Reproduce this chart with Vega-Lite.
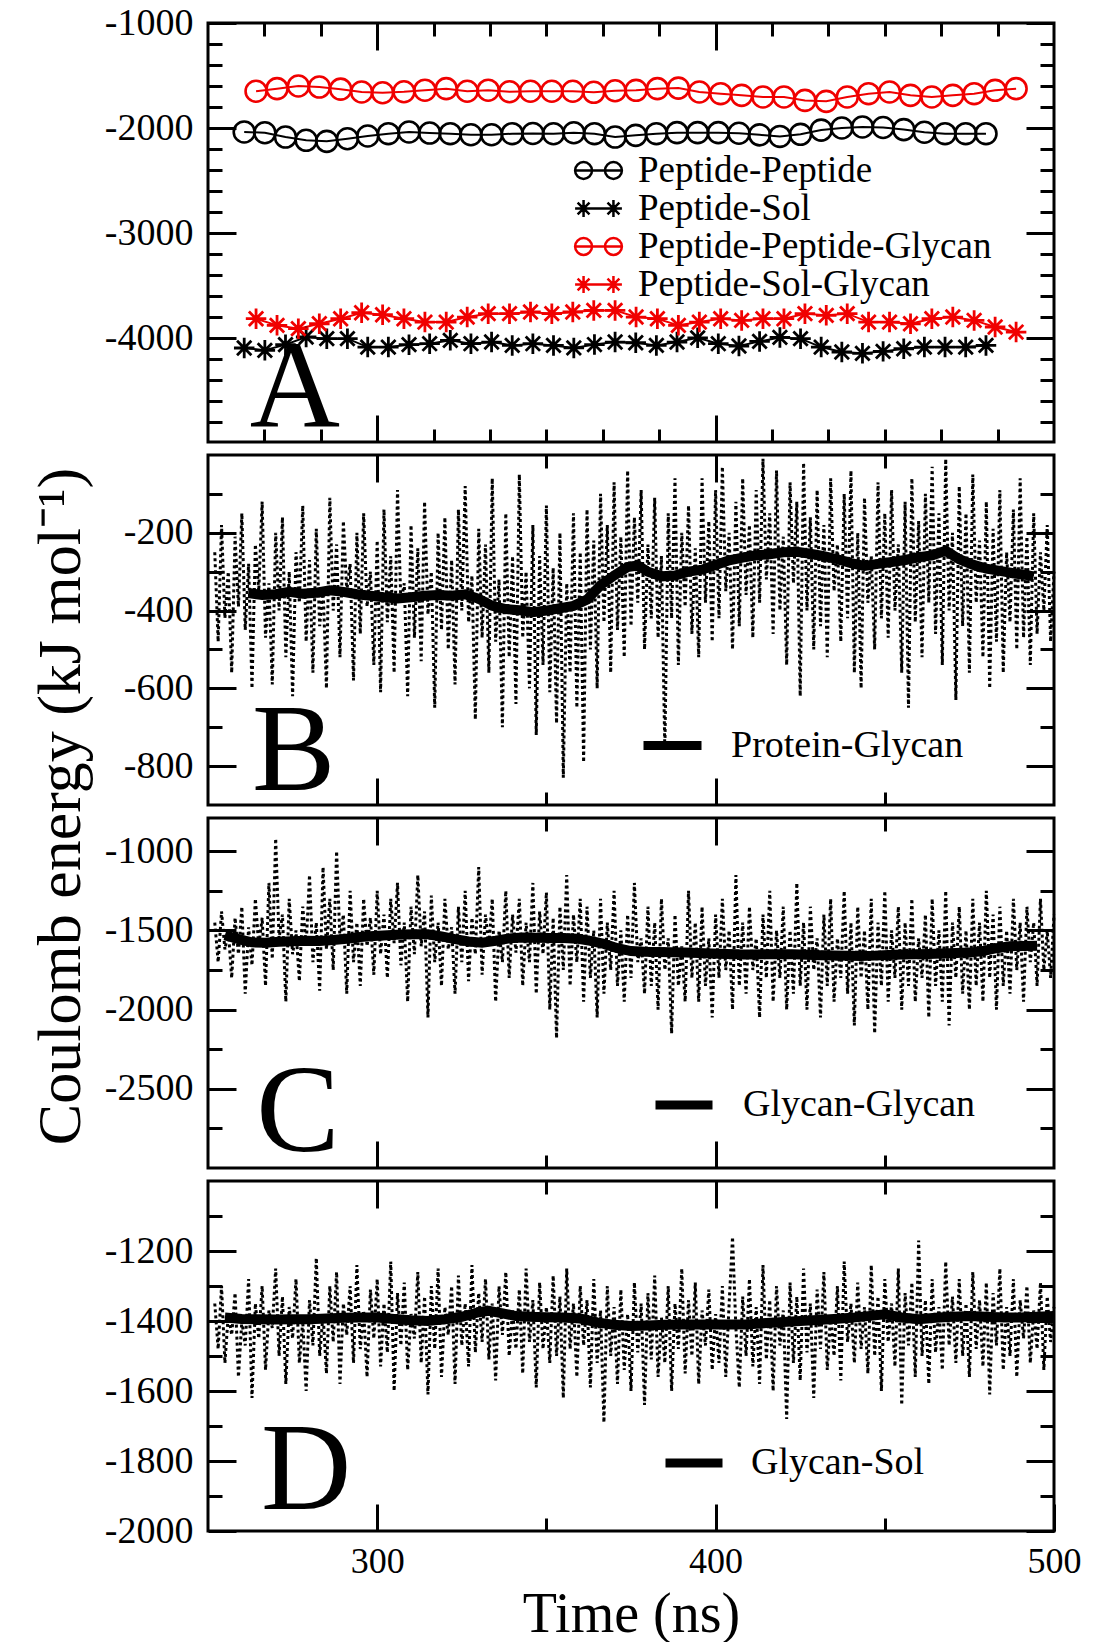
{
  "$schema": "https://vega.github.io/schema/vega-lite/v6.json",
  "padding": {"left": 27, "top": 2, "right": 8, "bottom": 4},
  "background": "white",
  "spacing": 13,
  "bounds": "flush",
  "config": {
    "view": {"stroke": "black", "strokeWidth": 3},
    "axis": {"labelFont": "Liberation Serif", "titleFont": "Liberation Serif", "labelColor": "black", "titleColor": "black", "tickColor": "black", "domain": false, "grid": false, "labelFlush": false, "labelOverlap": false, "titleFontWeight": "normal"},
    "legend": {"labelFont": "Liberation Serif", "labelColor": "black", "labelLimit": 600}
  },
  "resolve": {"scale": {"color": "independent"}, "legend": {"color": "independent"}},
  "datasets": {
    "A": [
      {"s":"Peptide-Peptide","t":260.7,"v":-2038},{"s":"Peptide-Peptide","t":266.8,"v":-2045},{"s":"Peptide-Peptide","t":272.9,"v":-2086},{"s":"Peptide-Peptide","t":279.0,"v":-2117},{"s":"Peptide-Peptide","t":285.1,"v":-2127},{"s":"Peptide-Peptide","t":291.2,"v":-2102},{"s":"Peptide-Peptide","t":297.2,"v":-2076},{"s":"Peptide-Peptide","t":303.3,"v":-2054},{"s":"Peptide-Peptide","t":309.4,"v":-2038},{"s":"Peptide-Peptide","t":315.5,"v":-2048},{"s":"Peptide-Peptide","t":321.6,"v":-2054},{"s":"Peptide-Peptide","t":327.7,"v":-2064},{"s":"Peptide-Peptide","t":333.8,"v":-2064},{"s":"Peptide-Peptide","t":339.9,"v":-2054},{"s":"Peptide-Peptide","t":346.0,"v":-2052},{"s":"Peptide-Peptide","t":352.1,"v":-2055},{"s":"Peptide-Peptide","t":358.1,"v":-2045},{"s":"Peptide-Peptide","t":364.2,"v":-2054},{"s":"Peptide-Peptide","t":370.3,"v":-2086},{"s":"Peptide-Peptide","t":376.4,"v":-2070},{"s":"Peptide-Peptide","t":382.5,"v":-2054},{"s":"Peptide-Peptide","t":388.6,"v":-2044},{"s":"Peptide-Peptide","t":394.7,"v":-2044},{"s":"Peptide-Peptide","t":400.8,"v":-2044},{"s":"Peptide-Peptide","t":406.9,"v":-2050},{"s":"Peptide-Peptide","t":413.0,"v":-2065},{"s":"Peptide-Peptide","t":419.0,"v":-2080},{"s":"Peptide-Peptide","t":425.1,"v":-2060},{"s":"Peptide-Peptide","t":431.2,"v":-2020},{"s":"Peptide-Peptide","t":437.3,"v":-2000},{"s":"Peptide-Peptide","t":443.4,"v":-1990},{"s":"Peptide-Peptide","t":449.5,"v":-1995},{"s":"Peptide-Peptide","t":455.6,"v":-2015},{"s":"Peptide-Peptide","t":461.7,"v":-2040},{"s":"Peptide-Peptide","t":467.8,"v":-2054},{"s":"Peptide-Peptide","t":473.9,"v":-2054},{"s":"Peptide-Peptide","t":479.9,"v":-2054},
      {"s":"Peptide-Sol","t":260.7,"v":-4095},{"s":"Peptide-Sol","t":266.8,"v":-4117},{"s":"Peptide-Sol","t":272.9,"v":-4063},{"s":"Peptide-Sol","t":279.0,"v":-3990},{"s":"Peptide-Sol","t":285.1,"v":-4006},{"s":"Peptide-Sol","t":291.2,"v":-4006},{"s":"Peptide-Sol","t":297.2,"v":-4086},{"s":"Peptide-Sol","t":303.3,"v":-4086},{"s":"Peptide-Sol","t":309.4,"v":-4063},{"s":"Peptide-Sol","t":315.5,"v":-4054},{"s":"Peptide-Sol","t":321.6,"v":-4022},{"s":"Peptide-Sol","t":327.7,"v":-4054},{"s":"Peptide-Sol","t":333.8,"v":-4038},{"s":"Peptide-Sol","t":339.9,"v":-4070},{"s":"Peptide-Sol","t":346.0,"v":-4054},{"s":"Peptide-Sol","t":352.1,"v":-4070},{"s":"Peptide-Sol","t":358.1,"v":-4094},{"s":"Peptide-Sol","t":364.2,"v":-4062},{"s":"Peptide-Sol","t":370.3,"v":-4038},{"s":"Peptide-Sol","t":376.4,"v":-4045},{"s":"Peptide-Sol","t":382.5,"v":-4070},{"s":"Peptide-Sol","t":388.6,"v":-4038},{"s":"Peptide-Sol","t":394.7,"v":-3998},{"s":"Peptide-Sol","t":400.8,"v":-4054},{"s":"Peptide-Sol","t":406.9,"v":-4076},{"s":"Peptide-Sol","t":413.0,"v":-4032},{"s":"Peptide-Sol","t":419.0,"v":-3994},{"s":"Peptide-Sol","t":425.1,"v":-4006},{"s":"Peptide-Sol","t":431.2,"v":-4086},{"s":"Peptide-Sol","t":437.3,"v":-4133},{"s":"Peptide-Sol","t":443.4,"v":-4146},{"s":"Peptide-Sol","t":449.5,"v":-4127},{"s":"Peptide-Sol","t":455.6,"v":-4102},{"s":"Peptide-Sol","t":461.7,"v":-4086},{"s":"Peptide-Sol","t":467.8,"v":-4086},{"s":"Peptide-Sol","t":473.9,"v":-4086},{"s":"Peptide-Sol","t":479.9,"v":-4070},
      {"s":"Peptide-Peptide-Glycan","t":264.2,"v":-1650},{"s":"Peptide-Peptide-Glycan","t":270.4,"v":-1625},{"s":"Peptide-Peptide-Glycan","t":276.7,"v":-1600},{"s":"Peptide-Peptide-Glycan","t":282.9,"v":-1610},{"s":"Peptide-Peptide-Glycan","t":289.2,"v":-1630},{"s":"Peptide-Peptide-Glycan","t":295.4,"v":-1657},{"s":"Peptide-Peptide-Glycan","t":301.6,"v":-1664},{"s":"Peptide-Peptide-Glycan","t":307.9,"v":-1655},{"s":"Peptide-Peptide-Glycan","t":314.1,"v":-1640},{"s":"Peptide-Peptide-Glycan","t":320.4,"v":-1625},{"s":"Peptide-Peptide-Glycan","t":326.6,"v":-1650},{"s":"Peptide-Peptide-Glycan","t":332.8,"v":-1640},{"s":"Peptide-Peptide-Glycan","t":339.1,"v":-1655},{"s":"Peptide-Peptide-Glycan","t":345.3,"v":-1650},{"s":"Peptide-Peptide-Glycan","t":351.6,"v":-1650},{"s":"Peptide-Peptide-Glycan","t":357.8,"v":-1650},{"s":"Peptide-Peptide-Glycan","t":364.0,"v":-1660},{"s":"Peptide-Peptide-Glycan","t":370.3,"v":-1645},{"s":"Peptide-Peptide-Glycan","t":376.5,"v":-1641},{"s":"Peptide-Peptide-Glycan","t":382.8,"v":-1625},{"s":"Peptide-Peptide-Glycan","t":389.0,"v":-1620},{"s":"Peptide-Peptide-Glycan","t":395.2,"v":-1657},{"s":"Peptide-Peptide-Glycan","t":401.5,"v":-1673},{"s":"Peptide-Peptide-Glycan","t":407.7,"v":-1689},{"s":"Peptide-Peptide-Glycan","t":414.0,"v":-1705},{"s":"Peptide-Peptide-Glycan","t":420.2,"v":-1705},{"s":"Peptide-Peptide-Glycan","t":426.4,"v":-1737},{"s":"Peptide-Peptide-Glycan","t":432.7,"v":-1746},{"s":"Peptide-Peptide-Glycan","t":438.9,"v":-1705},{"s":"Peptide-Peptide-Glycan","t":445.2,"v":-1673},{"s":"Peptide-Peptide-Glycan","t":451.4,"v":-1657},{"s":"Peptide-Peptide-Glycan","t":457.6,"v":-1689},{"s":"Peptide-Peptide-Glycan","t":463.9,"v":-1705},{"s":"Peptide-Peptide-Glycan","t":470.1,"v":-1689},{"s":"Peptide-Peptide-Glycan","t":476.4,"v":-1673},{"s":"Peptide-Peptide-Glycan","t":482.6,"v":-1641},{"s":"Peptide-Peptide-Glycan","t":488.8,"v":-1625},
      {"s":"Peptide-Sol-Glycan","t":264.2,"v":-3816},{"s":"Peptide-Sol-Glycan","t":270.4,"v":-3879},{"s":"Peptide-Sol-Glycan","t":276.7,"v":-3911},{"s":"Peptide-Sol-Glycan","t":282.9,"v":-3864},{"s":"Peptide-Sol-Glycan","t":289.2,"v":-3816},{"s":"Peptide-Sol-Glycan","t":295.4,"v":-3759},{"s":"Peptide-Sol-Glycan","t":301.6,"v":-3778},{"s":"Peptide-Sol-Glycan","t":307.9,"v":-3816},{"s":"Peptide-Sol-Glycan","t":314.1,"v":-3848},{"s":"Peptide-Sol-Glycan","t":320.4,"v":-3848},{"s":"Peptide-Sol-Glycan","t":326.6,"v":-3800},{"s":"Peptide-Sol-Glycan","t":332.8,"v":-3768},{"s":"Peptide-Sol-Glycan","t":339.1,"v":-3768},{"s":"Peptide-Sol-Glycan","t":345.3,"v":-3752},{"s":"Peptide-Sol-Glycan","t":351.6,"v":-3768},{"s":"Peptide-Sol-Glycan","t":357.8,"v":-3752},{"s":"Peptide-Sol-Glycan","t":364.0,"v":-3737},{"s":"Peptide-Sol-Glycan","t":370.3,"v":-3737},{"s":"Peptide-Sol-Glycan","t":376.5,"v":-3800},{"s":"Peptide-Sol-Glycan","t":382.8,"v":-3816},{"s":"Peptide-Sol-Glycan","t":389.0,"v":-3879},{"s":"Peptide-Sol-Glycan","t":395.2,"v":-3848},{"s":"Peptide-Sol-Glycan","t":401.5,"v":-3816},{"s":"Peptide-Sol-Glycan","t":407.7,"v":-3832},{"s":"Peptide-Sol-Glycan","t":414.0,"v":-3816},{"s":"Peptide-Sol-Glycan","t":420.2,"v":-3816},{"s":"Peptide-Sol-Glycan","t":426.4,"v":-3768},{"s":"Peptide-Sol-Glycan","t":432.7,"v":-3784},{"s":"Peptide-Sol-Glycan","t":438.9,"v":-3768},{"s":"Peptide-Sol-Glycan","t":445.2,"v":-3848},{"s":"Peptide-Sol-Glycan","t":451.4,"v":-3848},{"s":"Peptide-Sol-Glycan","t":457.6,"v":-3864},{"s":"Peptide-Sol-Glycan","t":463.9,"v":-3816},{"s":"Peptide-Sol-Glycan","t":470.1,"v":-3800},{"s":"Peptide-Sol-Glycan","t":476.4,"v":-3832},{"s":"Peptide-Sol-Glycan","t":482.6,"v":-3895},{"s":"Peptide-Sol-Glycan","t":488.8,"v":-3943}
    ],
    "letters": [
      {"p":"A","t":275.7,"v":-4848},{"p":"B","t":275.3,"v":-861},{"p":"C","t":276.6,"v":-2892},{"p":"D","t":279,"v":-1937}
    ],
    "Braw": [
      {"t":252,"v":-250},{"t":253,"v":-480},{"t":254,"v":-180},{"t":255,"v":-420},{"t":256,"v":-300},{"t":257,"v":-560},{"t":258,"v":-210},{"t":259,"v":-390},{"t":260,"v":-150},{"t":261,"v":-450},
      {"t":262,"v":-280},{"t":263,"v":-600},{"t":264,"v":-230},{"t":265,"v":-350},{"t":266,"v":-120},{"t":267,"v":-470},{"t":268,"v":-330},{"t":269,"v":-590},{"t":270,"v":-200},{"t":271,"v":-400},
      {"t":272,"v":-160},{"t":273,"v":-520},{"t":274,"v":-300},{"t":275,"v":-620},{"t":276,"v":-250},{"t":277,"v":-380},{"t":278,"v":-130},{"t":279,"v":-480},{"t":280,"v":-270},{"t":281,"v":-560},
      {"t":282,"v":-190},{"t":283,"v":-440},{"t":284,"v":-340},{"t":285,"v":-600},{"t":286,"v":-110},{"t":287,"v":-400},{"t":288,"v":-230},{"t":289,"v":-520},{"t":290,"v":-170},{"t":291,"v":-350},
      {"t":292,"v":-280},{"t":293,"v":-580},{"t":294,"v":-200},{"t":295,"v":-460},{"t":296,"v":-150},{"t":297,"v":-390},{"t":298,"v":-300},{"t":299,"v":-540},{"t":300,"v":-220},{"t":301,"v":-610},
      {"t":302,"v":-140},{"t":303,"v":-430},{"t":304,"v":-260},{"t":305,"v":-560},{"t":306,"v":-90},{"t":307,"v":-380},{"t":308,"v":-330},{"t":309,"v":-620},{"t":310,"v":-180},{"t":311,"v":-470},
      {"t":312,"v":-240},{"t":313,"v":-530},{"t":314,"v":-120},{"t":315,"v":-410},{"t":316,"v":-300},{"t":317,"v":-650},{"t":318,"v":-200},{"t":319,"v":-450},{"t":320,"v":-160},{"t":321,"v":-500},
      {"t":322,"v":-270},{"t":323,"v":-590},{"t":324,"v":-140},{"t":325,"v":-400},{"t":326,"v":-80},{"t":327,"v":-430},{"t":328,"v":-310},{"t":329,"v":-680},{"t":330,"v":-190},{"t":331,"v":-470},
      {"t":332,"v":-230},{"t":333,"v":-560},{"t":334,"v":-60},{"t":335,"v":-480},{"t":336,"v":-320},{"t":337,"v":-700},{"t":338,"v":-150},{"t":339,"v":-520},{"t":340,"v":-260},{"t":341,"v":-640},
      {"t":342,"v":-50},{"t":343,"v":-470},{"t":344,"v":-300},{"t":345,"v":-600},{"t":346,"v":-180},{"t":347,"v":-720},{"t":348,"v":-260},{"t":349,"v":-540},{"t":350,"v":-130},{"t":351,"v":-610},
      {"t":352,"v":-290},{"t":353,"v":-690},{"t":354,"v":-200},{"t":355,"v":-830},{"t":356,"v":-330},{"t":357,"v":-560},{"t":358,"v":-150},{"t":359,"v":-650},{"t":360,"v":-250},{"t":361,"v":-790},
      {"t":362,"v":-140},{"t":363,"v":-500},{"t":364,"v":-220},{"t":365,"v":-600},{"t":366,"v":-100},{"t":367,"v":-430},{"t":368,"v":-180},{"t":369,"v":-560},{"t":370,"v":-70},{"t":371,"v":-450},
      {"t":372,"v":-210},{"t":373,"v":-520},{"t":374,"v":-40},{"t":375,"v":-440},{"t":376,"v":-160},{"t":377,"v":-380},{"t":378,"v":-90},{"t":379,"v":-500},{"t":380,"v":-230},{"t":381,"v":-420},
      {"t":382,"v":-110},{"t":383,"v":-470},{"t":384,"v":-260},{"t":385,"v":-760},{"t":386,"v":-150},{"t":387,"v":-420},{"t":388,"v":-60},{"t":389,"v":-540},{"t":390,"v":-200},{"t":391,"v":-390},
      {"t":392,"v":-130},{"t":393,"v":-460},{"t":394,"v":-240},{"t":395,"v":-520},{"t":396,"v":-60},{"t":397,"v":-380},{"t":398,"v":-170},{"t":399,"v":-480},{"t":400,"v":-90},{"t":401,"v":-420},
      {"t":402,"v":-30},{"t":403,"v":-350},{"t":404,"v":-200},{"t":405,"v":-500},{"t":406,"v":-120},{"t":407,"v":-440},{"t":408,"v":-60},{"t":409,"v":-360},{"t":410,"v":-180},{"t":411,"v":-470},
      {"t":412,"v":-90},{"t":413,"v":-380},{"t":414,"v":-10},{"t":415,"v":-320},{"t":416,"v":-150},{"t":417,"v":-460},{"t":418,"v":-40},{"t":419,"v":-400},{"t":420,"v":-210},{"t":421,"v":-540},
      {"t":422,"v":-70},{"t":423,"v":-330},{"t":424,"v":-120},{"t":425,"v":-620},{"t":426,"v":-20},{"t":427,"v":-400},{"t":428,"v":-160},{"t":429,"v":-500},{"t":430,"v":-90},{"t":431,"v":-440},
      {"t":432,"v":-180},{"t":433,"v":-520},{"t":434,"v":-60},{"t":435,"v":-350},{"t":436,"v":-230},{"t":437,"v":-480},{"t":438,"v":-100},{"t":439,"v":-420},{"t":440,"v":-40},{"t":441,"v":-560},
      {"t":442,"v":-200},{"t":443,"v":-600},{"t":444,"v":-110},{"t":445,"v":-380},{"t":446,"v":-260},{"t":447,"v":-500},{"t":448,"v":-70},{"t":449,"v":-420},{"t":450,"v":-150},{"t":451,"v":-470},
      {"t":452,"v":-90},{"t":453,"v":-400},{"t":454,"v":-230},{"t":455,"v":-560},{"t":456,"v":-120},{"t":457,"v":-650},{"t":458,"v":-60},{"t":459,"v":-430},{"t":460,"v":-170},{"t":461,"v":-520},
      {"t":462,"v":-100},{"t":463,"v":-380},{"t":464,"v":-30},{"t":465,"v":-460},{"t":466,"v":-150},{"t":467,"v":-540},{"t":468,"v":-10},{"t":469,"v":-400},{"t":470,"v":-200},{"t":471,"v":-630},
      {"t":472,"v":-80},{"t":473,"v":-440},{"t":474,"v":-150},{"t":475,"v":-560},{"t":476,"v":-50},{"t":477,"v":-380},{"t":478,"v":-220},{"t":479,"v":-520},{"t":480,"v":-120},{"t":481,"v":-600},
      {"t":482,"v":-190},{"t":483,"v":-480},{"t":484,"v":-90},{"t":485,"v":-560},{"t":486,"v":-250},{"t":487,"v":-430},{"t":488,"v":-140},{"t":489,"v":-500},{"t":490,"v":-60},{"t":491,"v":-470},
      {"t":492,"v":-210},{"t":493,"v":-540},{"t":494,"v":-150},{"t":495,"v":-460},{"t":496,"v":-250},{"t":497,"v":-400},{"t":498,"v":-180},{"t":499,"v":-480},{"t":500,"v":-300}
    ],
    "Bsm": [
      {"t":262,"v":-355},{"t":266,"v":-360},{"t":270,"v":-358},{"t":274,"v":-352},{"t":278,"v":-357},{"t":282,"v":-354},{"t":286,"v":-348},{"t":290,"v":-352},{"t":294,"v":-358},{"t":298,"v":-362},{"t":302,"v":-366},{"t":306,"v":-369},{"t":310,"v":-366},{"t":314,"v":-362},{"t":318,"v":-360},{"t":322,"v":-362},{"t":326,"v":-358},{"t":330,"v":-370},{"t":334,"v":-388},{"t":338,"v":-396},{"t":342,"v":-399},{"t":346,"v":-404},{"t":350,"v":-400},{"t":354,"v":-394},{"t":358,"v":-388},{"t":362,"v":-372},{"t":366,"v":-335},{"t":370,"v":-310},{"t":374,"v":-288},{"t":377,"v":-284},{"t":380,"v":-300},{"t":384,"v":-312},{"t":388,"v":-310},{"t":392,"v":-300},{"t":396,"v":-295},{"t":400,"v":-283},{"t":404,"v":-271},{"t":408,"v":-264},{"t":412,"v":-258},{"t":416,"v":-255},{"t":420,"v":-250},{"t":424,"v":-249},{"t":428,"v":-254},{"t":432,"v":-260},{"t":436,"v":-268},{"t":440,"v":-278},{"t":444,"v":-285},{"t":448,"v":-280},{"t":452,"v":-275},{"t":456,"v":-270},{"t":460,"v":-263},{"t":464,"v":-258},{"t":468,"v":-246},{"t":472,"v":-268},{"t":476,"v":-282},{"t":480,"v":-292},{"t":484,"v":-298},{"t":488,"v":-304},{"t":492,"v":-309},{"t":494,"v":-312}
    ],
    "Craw": [
      {"t":252,"v":-1450},{"t":253,"v":-1700},{"t":254,"v":-1380},{"t":255,"v":-1620},{"t":256,"v":-1500},{"t":257,"v":-1800},{"t":258,"v":-1420},{"t":259,"v":-1650},{"t":260,"v":-1350},{"t":261,"v":-1900},
      {"t":262,"v":-1480},{"t":263,"v":-1720},{"t":264,"v":-1300},{"t":265,"v":-1600},{"t":266,"v":-1420},{"t":267,"v":-1850},{"t":268,"v":-1200},{"t":269,"v":-1680},{"t":270,"v":-920},{"t":271,"v":-1550},
      {"t":272,"v":-1400},{"t":273,"v":-1950},{"t":274,"v":-1300},{"t":275,"v":-1650},{"t":276,"v":-1500},{"t":277,"v":-1820},{"t":278,"v":-1350},{"t":279,"v":-1600},{"t":280,"v":-1150},{"t":281,"v":-1700},
      {"t":282,"v":-1450},{"t":283,"v":-1880},{"t":284,"v":-1100},{"t":285,"v":-1620},{"t":286,"v":-1300},{"t":287,"v":-1750},{"t":288,"v":-1000},{"t":289,"v":-1560},{"t":290,"v":-1400},{"t":291,"v":-1900},
      {"t":292,"v":-1250},{"t":293,"v":-1700},{"t":294,"v":-1450},{"t":295,"v":-1850},{"t":296,"v":-1300},{"t":297,"v":-1600},{"t":298,"v":-1420},{"t":299,"v":-1780},{"t":300,"v":-1250},{"t":301,"v":-1650},
      {"t":302,"v":-1400},{"t":303,"v":-1800},{"t":304,"v":-1300},{"t":305,"v":-1580},{"t":306,"v":-1200},{"t":307,"v":-1720},{"t":308,"v":-1450},{"t":309,"v":-1950},{"t":310,"v":-1350},{"t":311,"v":-1650},
      {"t":312,"v":-1150},{"t":313,"v":-1600},{"t":314,"v":-1380},{"t":315,"v":-2050},{"t":316,"v":-1280},{"t":317,"v":-1700},{"t":318,"v":-1450},{"t":319,"v":-1850},{"t":320,"v":-1300},{"t":321,"v":-1620},
      {"t":322,"v":-1480},{"t":323,"v":-1900},{"t":324,"v":-1350},{"t":325,"v":-1700},{"t":326,"v":-1250},{"t":327,"v":-1820},{"t":328,"v":-1420},{"t":329,"v":-1650},{"t":330,"v":-1100},{"t":331,"v":-1780},
      {"t":332,"v":-1400},{"t":333,"v":-1600},{"t":334,"v":-1300},{"t":335,"v":-1950},{"t":336,"v":-1500},{"t":337,"v":-1700},{"t":338,"v":-1250},{"t":339,"v":-1800},{"t":340,"v":-1400},{"t":341,"v":-1640},
      {"t":342,"v":-1300},{"t":343,"v":-1850},{"t":344,"v":-1450},{"t":345,"v":-1700},{"t":346,"v":-1200},{"t":347,"v":-1900},{"t":348,"v":-1380},{"t":349,"v":-1650},{"t":350,"v":-1260},{"t":351,"v":-2000},
      {"t":352,"v":-1420},{"t":353,"v":-2180},{"t":354,"v":-1350},{"t":355,"v":-1750},{"t":356,"v":-1150},{"t":357,"v":-1850},{"t":358,"v":-1400},{"t":359,"v":-1700},{"t":360,"v":-1300},{"t":361,"v":-1950},
      {"t":362,"v":-1350},{"t":363,"v":-1800},{"t":364,"v":-1500},{"t":365,"v":-2050},{"t":366,"v":-1300},{"t":367,"v":-1900},{"t":368,"v":-1450},{"t":369,"v":-1750},{"t":370,"v":-1250},{"t":371,"v":-1850},
      {"t":372,"v":-1500},{"t":373,"v":-1950},{"t":374,"v":-1400},{"t":375,"v":-1800},{"t":376,"v":-1200},{"t":377,"v":-1700},{"t":378,"v":-1550},{"t":379,"v":-1900},{"t":380,"v":-1350},{"t":381,"v":-1850},
      {"t":382,"v":-1450},{"t":383,"v":-2000},{"t":384,"v":-1300},{"t":385,"v":-1750},{"t":386,"v":-1550},{"t":387,"v":-2150},{"t":388,"v":-1400},{"t":389,"v":-1850},{"t":390,"v":-1600},{"t":391,"v":-1950},
      {"t":392,"v":-1250},{"t":393,"v":-1800},{"t":394,"v":-1450},{"t":395,"v":-1950},{"t":396,"v":-1350},{"t":397,"v":-1850},{"t":398,"v":-1550},{"t":399,"v":-2050},{"t":400,"v":-1400},{"t":401,"v":-1800},
      {"t":402,"v":-1300},{"t":403,"v":-1750},{"t":404,"v":-1500},{"t":405,"v":-2000},{"t":406,"v":-1150},{"t":407,"v":-1850},{"t":408,"v":-1450},{"t":409,"v":-1900},{"t":410,"v":-1350},{"t":411,"v":-1750},
      {"t":412,"v":-1550},{"t":413,"v":-2050},{"t":414,"v":-1400},{"t":415,"v":-1800},{"t":416,"v":-1250},{"t":417,"v":-1950},{"t":418,"v":-1500},{"t":419,"v":-1800},{"t":420,"v":-1350},{"t":421,"v":-2000},
      {"t":422,"v":-1500},{"t":423,"v":-1900},{"t":424,"v":-1200},{"t":425,"v":-1850},{"t":426,"v":-1450},{"t":427,"v":-2000},{"t":428,"v":-1350},{"t":429,"v":-1750},{"t":430,"v":-1550},{"t":431,"v":-2050},
      {"t":432,"v":-1400},{"t":433,"v":-1850},{"t":434,"v":-1300},{"t":435,"v":-1950},{"t":436,"v":-1550},{"t":437,"v":-1800},{"t":438,"v":-1250},{"t":439,"v":-1900},{"t":440,"v":-1450},{"t":441,"v":-2100},
      {"t":442,"v":-1350},{"t":443,"v":-1800},{"t":444,"v":-1500},{"t":445,"v":-2000},{"t":446,"v":-1300},{"t":447,"v":-2150},{"t":448,"v":-1450},{"t":449,"v":-1850},{"t":450,"v":-1250},{"t":451,"v":-1950},
      {"t":452,"v":-1500},{"t":453,"v":-1800},{"t":454,"v":-1350},{"t":455,"v":-2000},{"t":456,"v":-1450},{"t":457,"v":-1850},{"t":458,"v":-1300},{"t":459,"v":-1950},{"t":460,"v":-1550},{"t":461,"v":-1800},
      {"t":462,"v":-1400},{"t":463,"v":-2050},{"t":464,"v":-1300},{"t":465,"v":-1850},{"t":466,"v":-1500},{"t":467,"v":-1950},{"t":468,"v":-1250},{"t":469,"v":-2100},{"t":470,"v":-1450},{"t":471,"v":-1800},
      {"t":472,"v":-1350},{"t":473,"v":-1900},{"t":474,"v":-1500},{"t":475,"v":-2000},{"t":476,"v":-1300},{"t":477,"v":-1850},{"t":478,"v":-1450},{"t":479,"v":-1950},{"t":480,"v":-1250},{"t":481,"v":-1800},
      {"t":482,"v":-1400},{"t":483,"v":-2000},{"t":484,"v":-1350},{"t":485,"v":-1850},{"t":486,"v":-1500},{"t":487,"v":-1900},{"t":488,"v":-1300},{"t":489,"v":-1750},{"t":490,"v":-1450},{"t":491,"v":-1950},
      {"t":492,"v":-1350},{"t":493,"v":-1700},{"t":494,"v":-1450},{"t":495,"v":-1850},{"t":496,"v":-1300},{"t":497,"v":-1750},{"t":498,"v":-1500},{"t":499,"v":-1800},{"t":500,"v":-1400}
    ],
    "Csm": [
      {"t":255,"v":-1530},{"t":259,"v":-1555},{"t":263,"v":-1575},{"t":267,"v":-1578},{"t":271,"v":-1572},{"t":275,"v":-1568},{"t":279,"v":-1565},{"t":283,"v":-1566},{"t":287,"v":-1560},{"t":291,"v":-1552},{"t":295,"v":-1542},{"t":299,"v":-1535},{"t":303,"v":-1530},{"t":307,"v":-1526},{"t":311,"v":-1524},{"t":315,"v":-1524},{"t":319,"v":-1538},{"t":323,"v":-1555},{"t":327,"v":-1570},{"t":331,"v":-1577},{"t":335,"v":-1565},{"t":339,"v":-1550},{"t":343,"v":-1545},{"t":347,"v":-1546},{"t":351,"v":-1548},{"t":355,"v":-1548},{"t":359,"v":-1552},{"t":363,"v":-1566},{"t":367,"v":-1585},{"t":371,"v":-1612},{"t":375,"v":-1630},{"t":379,"v":-1634},{"t":383,"v":-1636},{"t":387,"v":-1638},{"t":391,"v":-1640},{"t":395,"v":-1642},{"t":399,"v":-1645},{"t":403,"v":-1648},{"t":407,"v":-1651},{"t":411,"v":-1652},{"t":415,"v":-1650},{"t":419,"v":-1650},{"t":423,"v":-1651},{"t":427,"v":-1653},{"t":431,"v":-1656},{"t":435,"v":-1658},{"t":439,"v":-1660},{"t":443,"v":-1661},{"t":447,"v":-1659},{"t":451,"v":-1655},{"t":455,"v":-1652},{"t":459,"v":-1651},{"t":463,"v":-1648},{"t":467,"v":-1645},{"t":471,"v":-1642},{"t":475,"v":-1640},{"t":479,"v":-1630},{"t":483,"v":-1612},{"t":487,"v":-1600},{"t":491,"v":-1598},{"t":495,"v":-1596}
    ],
    "Draw": [
      {"t":252,"v":-1350},{"t":253,"v":-1480},{"t":254,"v":-1300},{"t":255,"v":-1520},{"t":256,"v":-1380},{"t":257,"v":-1440},{"t":258,"v":-1320},{"t":259,"v":-1560},{"t":260,"v":-1400},{"t":261,"v":-1470},
      {"t":262,"v":-1280},{"t":263,"v":-1620},{"t":264,"v":-1350},{"t":265,"v":-1450},{"t":266,"v":-1300},{"t":267,"v":-1540},{"t":268,"v":-1370},{"t":269,"v":-1420},{"t":270,"v":-1250},{"t":271,"v":-1500},
      {"t":272,"v":-1330},{"t":273,"v":-1580},{"t":274,"v":-1360},{"t":275,"v":-1450},{"t":276,"v":-1280},{"t":277,"v":-1520},{"t":278,"v":-1400},{"t":279,"v":-1600},{"t":280,"v":-1340},{"t":281,"v":-1470},
      {"t":282,"v":-1220},{"t":283,"v":-1500},{"t":284,"v":-1380},{"t":285,"v":-1550},{"t":286,"v":-1300},{"t":287,"v":-1460},{"t":288,"v":-1260},{"t":289,"v":-1580},{"t":290,"v":-1350},{"t":291,"v":-1440},
      {"t":292,"v":-1300},{"t":293,"v":-1520},{"t":294,"v":-1240},{"t":295,"v":-1480},{"t":296,"v":-1370},{"t":297,"v":-1560},{"t":298,"v":-1310},{"t":299,"v":-1450},{"t":300,"v":-1280},{"t":301,"v":-1530},
      {"t":302,"v":-1350},{"t":303,"v":-1490},{"t":304,"v":-1230},{"t":305,"v":-1600},{"t":306,"v":-1320},{"t":307,"v":-1470},{"t":308,"v":-1290},{"t":309,"v":-1540},{"t":310,"v":-1380},{"t":311,"v":-1450},
      {"t":312,"v":-1260},{"t":313,"v":-1520},{"t":314,"v":-1330},{"t":315,"v":-1610},{"t":316,"v":-1300},{"t":317,"v":-1480},{"t":318,"v":-1250},{"t":319,"v":-1560},{"t":320,"v":-1360},{"t":321,"v":-1440},
      {"t":322,"v":-1300},{"t":323,"v":-1580},{"t":324,"v":-1270},{"t":325,"v":-1470},{"t":326,"v":-1350},{"t":327,"v":-1530},{"t":328,"v":-1240},{"t":329,"v":-1490},{"t":330,"v":-1320},{"t":331,"v":-1460},
      {"t":332,"v":-1280},{"t":333,"v":-1510},{"t":334,"v":-1350},{"t":335,"v":-1570},{"t":336,"v":-1300},{"t":337,"v":-1440},{"t":338,"v":-1260},{"t":339,"v":-1500},{"t":340,"v":-1370},{"t":341,"v":-1480},
      {"t":342,"v":-1310},{"t":343,"v":-1550},{"t":344,"v":-1250},{"t":345,"v":-1460},{"t":346,"v":-1340},{"t":347,"v":-1590},{"t":348,"v":-1290},{"t":349,"v":-1480},{"t":350,"v":-1360},{"t":351,"v":-1520},
      {"t":352,"v":-1270},{"t":353,"v":-1500},{"t":354,"v":-1330},{"t":355,"v":-1620},{"t":356,"v":-1250},{"t":357,"v":-1480},{"t":358,"v":-1350},{"t":359,"v":-1560},{"t":360,"v":-1300},{"t":361,"v":-1470},
      {"t":362,"v":-1340},{"t":363,"v":-1590},{"t":364,"v":-1280},{"t":365,"v":-1520},{"t":366,"v":-1370},{"t":367,"v":-1690},{"t":368,"v":-1300},{"t":369,"v":-1500},{"t":370,"v":-1360},{"t":371,"v":-1580},
      {"t":372,"v":-1310},{"t":373,"v":-1540},{"t":374,"v":-1380},{"t":375,"v":-1600},{"t":376,"v":-1290},{"t":377,"v":-1490},{"t":378,"v":-1350},{"t":379,"v":-1640},{"t":380,"v":-1320},{"t":381,"v":-1510},
      {"t":382,"v":-1270},{"t":383,"v":-1560},{"t":384,"v":-1390},{"t":385,"v":-1520},{"t":386,"v":-1300},{"t":387,"v":-1600},{"t":388,"v":-1350},{"t":389,"v":-1480},{"t":390,"v":-1250},{"t":391,"v":-1550},
      {"t":392,"v":-1340},{"t":393,"v":-1500},{"t":394,"v":-1290},{"t":395,"v":-1580},{"t":396,"v":-1370},{"t":397,"v":-1470},{"t":398,"v":-1310},{"t":399,"v":-1540},{"t":400,"v":-1380},{"t":401,"v":-1520},
      {"t":402,"v":-1300},{"t":403,"v":-1560},{"t":404,"v":-1350},{"t":405,"v":-1160},{"t":406,"v":-1420},{"t":407,"v":-1590},{"t":408,"v":-1330},{"t":409,"v":-1500},{"t":410,"v":-1280},{"t":411,"v":-1530},
      {"t":412,"v":-1360},{"t":413,"v":-1580},{"t":414,"v":-1240},{"t":415,"v":-1510},{"t":416,"v":-1340},{"t":417,"v":-1600},{"t":418,"v":-1300},{"t":419,"v":-1470},{"t":420,"v":-1370},{"t":421,"v":-1680},
      {"t":422,"v":-1290},{"t":423,"v":-1520},{"t":424,"v":-1330},{"t":425,"v":-1570},{"t":426,"v":-1250},{"t":427,"v":-1490},{"t":428,"v":-1350},{"t":429,"v":-1620},{"t":430,"v":-1310},{"t":431,"v":-1480},
      {"t":432,"v":-1260},{"t":433,"v":-1540},{"t":434,"v":-1380},{"t":435,"v":-1500},{"t":436,"v":-1300},{"t":437,"v":-1570},{"t":438,"v":-1230},{"t":439,"v":-1460},{"t":440,"v":-1350},{"t":441,"v":-1520},
      {"t":442,"v":-1290},{"t":443,"v":-1480},{"t":444,"v":-1360},{"t":445,"v":-1550},{"t":446,"v":-1240},{"t":447,"v":-1500},{"t":448,"v":-1330},{"t":449,"v":-1600},{"t":450,"v":-1280},{"t":451,"v":-1460},
      {"t":452,"v":-1350},{"t":453,"v":-1530},{"t":454,"v":-1250},{"t":455,"v":-1640},{"t":456,"v":-1320},{"t":457,"v":-1470},{"t":458,"v":-1290},{"t":459,"v":-1560},{"t":460,"v":-1170},{"t":461,"v":-1500},
      {"t":462,"v":-1340},{"t":463,"v":-1580},{"t":464,"v":-1280},{"t":465,"v":-1490},{"t":466,"v":-1360},{"t":467,"v":-1540},{"t":468,"v":-1230},{"t":469,"v":-1470},{"t":470,"v":-1330},{"t":471,"v":-1520},
      {"t":472,"v":-1280},{"t":473,"v":-1500},{"t":474,"v":-1350},{"t":475,"v":-1560},{"t":476,"v":-1260},{"t":477,"v":-1480},{"t":478,"v":-1340},{"t":479,"v":-1530},{"t":480,"v":-1290},{"t":481,"v":-1610},
      {"t":482,"v":-1320},{"t":483,"v":-1470},{"t":484,"v":-1250},{"t":485,"v":-1540},{"t":486,"v":-1360},{"t":487,"v":-1500},{"t":488,"v":-1280},{"t":489,"v":-1560},{"t":490,"v":-1340},{"t":491,"v":-1450},
      {"t":492,"v":-1300},{"t":493,"v":-1520},{"t":494,"v":-1370},{"t":495,"v":-1480},{"t":496,"v":-1290},{"t":497,"v":-1540},{"t":498,"v":-1330},{"t":499,"v":-1460},{"t":500,"v":-1360}
    ],
    "Dsm": [
      {"t":255,"v":-1390},{"t":260,"v":-1394},{"t":265,"v":-1395},{"t":270,"v":-1396},{"t":275,"v":-1395},{"t":280,"v":-1395},{"t":285,"v":-1393},{"t":290,"v":-1391},{"t":295,"v":-1390},{"t":300,"v":-1390},{"t":305,"v":-1394},{"t":310,"v":-1398},{"t":315,"v":-1400},{"t":320,"v":-1395},{"t":325,"v":-1388},{"t":330,"v":-1375},{"t":333,"v":-1371},{"t":337,"v":-1378},{"t":341,"v":-1386},{"t":345,"v":-1388},{"t":350,"v":-1389},{"t":355,"v":-1390},{"t":360,"v":-1393},{"t":365,"v":-1404},{"t":370,"v":-1411},{"t":375,"v":-1414},{"t":380,"v":-1413},{"t":385,"v":-1411},{"t":390,"v":-1410},{"t":395,"v":-1410},{"t":400,"v":-1410},{"t":405,"v":-1410},{"t":410,"v":-1409},{"t":415,"v":-1406},{"t":420,"v":-1403},{"t":425,"v":-1400},{"t":430,"v":-1397},{"t":435,"v":-1394},{"t":440,"v":-1391},{"t":445,"v":-1386},{"t":450,"v":-1381},{"t":455,"v":-1390},{"t":460,"v":-1395},{"t":465,"v":-1391},{"t":470,"v":-1388},{"t":475,"v":-1386},{"t":480,"v":-1388},{"t":485,"v":-1390},{"t":490,"v":-1390},{"t":495,"v":-1388},{"t":500,"v":-1386}
    ]
  },
  "vconcat": [
    {
      "width": 846, "height": 419,
      "resolve": {"axis": {"x": "independent", "y": "independent"}},
      "layer": [
        {
          "data": {"name": "A"},
          "mark": {"type": "line", "strokeWidth": 2},
          "encoding": {
            "x": {"field": "t", "type": "quantitative", "scale": {"domain": [250, 500], "nice": false, "zero": false},
              "axis": {"orient": "bottom", "values": [266.667, 283.333, 300, 316.667, 333.333, 350, 366.667, 383.333, 400, 416.667, 433.333, 450, 466.667, 483.333], "labels": false, "title": null, "tickWidth": 3, "tickSize": {"condition": {"test": "datum.value % 100 === 0", "value": -27}, "value": -13}}},
            "y": {"field": "v", "type": "quantitative", "scale": {"domain": [-4990, -1000], "nice": false, "zero": false},
              "axis": {"orient": "left", "values": [-4800, -4600, -4400, -4200, -4000, -3800, -3600, -3400, -3200, -3000, -2800, -2600, -2400, -2200, -2000, -1800, -1600, -1400, -1200, -1000], "title": null, "labelExpr": "datum.value % 1000 === 0 ? '' + datum.value : ''", "labelFontSize": 38, "labelPadding": 43, "tickWidth": 3, "tickSize": {"condition": {"test": "datum.value % 1000 === 0", "value": -28}, "value": -14}}},
            "color": {"field": "s", "type": "nominal",
              "scale": {"domain": ["Peptide-Peptide", "Peptide-Sol", "Peptide-Peptide-Glycan", "Peptide-Sol-Glycan"], "range": ["#000000", "#000000", "#f00000", "#f00000"]},
              "legend": {"orient": "none", "legendX": 371, "legendY": 128, "title": null, "labelFontSize": 37, "symbolSize": 1296, "symbolStrokeWidth": 2.5, "labelOffset": 20, "rowPadding": -2, "padding": 0,
                "encode": {"symbols": {"update": {"fill": {"value": "transparent"}, "shape": {"signal": "indexof(datum.value, 'Sol') >= 0 ? 'M -1.3 0 L 1.3 0 M -0.83 -0.47 L -0.83 0.47 M -1.16 -0.33 L -0.5 0.33 M -1.16 0.33 L -0.5 -0.33 M 0.83 -0.47 L 0.83 0.47 M 0.5 -0.33 L 1.16 0.33 M 0.5 0.33 L 1.16 -0.33' : 'M -0.36 0 A 0.47 0.47 0 1 1 -1.3 0 A 0.47 0.47 0 1 1 -0.36 0 M 1.3 0 A 0.47 0.47 0 1 1 0.36 0 A 0.47 0.47 0 1 1 1.3 0 M -1.3 0 L 1.3 0'"}}}}}}
          }
        },
        {
          "data": {"name": "A"},
          "transform": [{"filter": {"field": "s", "oneOf": ["Peptide-Peptide", "Peptide-Peptide-Glycan"]}}],
          "mark": {"type": "point", "shape": "circle", "filled": false, "size": 440, "strokeWidth": 2.6, "opacity": 1},
          "encoding": {
            "x": {"field": "t", "type": "quantitative", "scale": {"domain": [250, 500], "nice": false, "zero": false},
              "axis": {"orient": "top", "values": [266.667, 283.333, 300, 316.667, 333.333, 350, 366.667, 383.333, 400, 416.667, 433.333, 450, 466.667, 483.333], "labels": false, "title": null, "tickWidth": 3, "tickSize": {"condition": {"test": "datum.value % 100 === 0", "value": -27}, "value": -13}}},
            "y": {"field": "v", "type": "quantitative", "scale": {"domain": [-4990, -1000], "nice": false, "zero": false},
              "axis": {"orient": "right", "values": [-4800, -4600, -4400, -4200, -4000, -3800, -3600, -3400, -3200, -3000, -2800, -2600, -2400, -2200, -2000, -1800, -1600, -1400, -1200, -1000], "title": null, "labels": false, "tickWidth": 3, "tickSize": {"condition": {"test": "datum.value % 1000 === 0", "value": -28}, "value": -14}}},
            "color": {"field": "s", "type": "nominal"}
          }
        },
        {
          "data": {"name": "A"},
          "transform": [{"filter": {"field": "s", "oneOf": ["Peptide-Sol", "Peptide-Sol-Glycan"]}}],
          "mark": {"type": "point", "shape": "M -1 0 L 1 0 M 0 -1 L 0 1 M -0.7 -0.7 L 0.7 0.7 M -0.7 0.7 L 0.7 -0.7", "filled": false, "size": 420, "strokeWidth": 2.8, "opacity": 1},
          "encoding": {
            "x": {"field": "t", "type": "quantitative", "scale": {"domain": [250, 500], "nice": false, "zero": false}, "axis": null},
            "y": {"field": "v", "type": "quantitative", "scale": {"domain": [-4990, -1000], "nice": false, "zero": false}, "axis": null},
            "color": {"field": "s", "type": "nominal"}
          }
        },
        {
          "data": {"name": "letters"},
          "transform": [{"filter": "datum.p === 'A'"}],
          "mark": {"type": "text", "fontSize": 125, "font": "Liberation Serif", "align": "center", "baseline": "alphabetic", "color": "black"},
          "encoding": {
            "x": {"field": "t", "type": "quantitative", "scale": {"domain": [250, 500], "nice": false, "zero": false}, "axis": null},
            "y": {"field": "v", "type": "quantitative", "scale": {"domain": [-4990, -1000], "nice": false, "zero": false}, "axis": null},
            "text": {"field": "p"}
          }
        }
      ]
    },
    {
      "width": 846, "height": 350,
      "resolve": {"axis": {"x": "independent", "y": "independent"}},
      "layer": [
        {
          "data": {"name": "Braw"},
          "mark": {"type": "line", "strokeWidth": 3, "strokeDash": [3, 3], "color": "black"},
          "encoding": {
            "x": {"field": "t", "type": "quantitative", "scale": {"domain": [250, 500], "nice": false, "zero": false},
              "axis": {"orient": "bottom", "values": [300, 350, 400, 450], "labels": false, "title": null, "tickWidth": 3, "tickSize": {"condition": {"test": "datum.value % 100 === 0", "value": -27}, "value": -13}}},
            "y": {"field": "v", "type": "quantitative", "scale": {"domain": [-900, 0], "nice": false, "zero": false},
              "axis": {"orient": "left", "values": [-800, -700, -600, -500, -400, -300, -200, -100], "labelExpr": "datum.value % 200 === 0 ? '' + datum.value : ''", "labelFontSize": 38, "labelPadding": 43, "tickWidth": 3, "tickSize": {"condition": {"test": "datum.value % 200 === 0", "value": -28}, "value": -14},
                "title": "Coulomb energy (kJ mol⁻¹)", "titleFontSize": 62, "titleAngle": 270, "titleX": -129, "titleY": 351, "titleAlign": "center", "titleBaseline": "alphabetic"}}
          }
        },
        {
          "data": {"name": "Bsm"},
          "mark": {"type": "line", "strokeWidth": 10},
          "encoding": {
            "x": {"field": "t", "type": "quantitative", "scale": {"domain": [250, 500], "nice": false, "zero": false},
              "axis": {"orient": "top", "values": [300, 350, 400, 450], "labels": false, "title": null, "tickWidth": 3, "tickSize": {"condition": {"test": "datum.value % 100 === 0", "value": -27}, "value": -13}}},
            "y": {"field": "v", "type": "quantitative", "scale": {"domain": [-900, 0], "nice": false, "zero": false},
              "axis": {"orient": "right", "values": [-800, -700, -600, -500, -400, -300, -200, -100], "labels": false, "title": null, "tickWidth": 3, "tickSize": {"condition": {"test": "datum.value % 200 === 0", "value": -28}, "value": -14}}},
            "color": {"datum": "Protein-Glycan", "type": "nominal", "scale": {"range": ["black"]},
              "legend": {"orient": "none", "legendX": 431, "legendY": 257, "title": null, "symbolType": "stroke", "symbolStrokeWidth": 9, "symbolSize": 3364, "labelFontSize": 38, "labelOffset": 25, "padding": 0}}
          }
        },
        {
          "data": {"name": "letters"},
          "transform": [{"filter": "datum.p === 'B'"}],
          "mark": {"type": "text", "fontSize": 125, "font": "Liberation Serif", "align": "center", "baseline": "alphabetic", "color": "black"},
          "encoding": {
            "x": {"field": "t", "type": "quantitative", "scale": {"domain": [250, 500], "nice": false, "zero": false}, "axis": null},
            "y": {"field": "v", "type": "quantitative", "scale": {"domain": [-900, 0], "nice": false, "zero": false}, "axis": null},
            "text": {"field": "p"}
          }
        }
      ]
    },
    {
      "width": 846, "height": 350,
      "resolve": {"axis": {"x": "independent", "y": "independent"}},
      "layer": [
        {
          "data": {"name": "Craw"},
          "mark": {"type": "line", "strokeWidth": 3, "strokeDash": [3, 3], "color": "black"},
          "encoding": {
            "x": {"field": "t", "type": "quantitative", "scale": {"domain": [250, 500], "nice": false, "zero": false},
              "axis": {"orient": "bottom", "values": [300, 350, 400, 450], "labels": false, "title": null, "tickWidth": 3, "tickSize": {"condition": {"test": "datum.value % 100 === 0", "value": -27}, "value": -13}}},
            "y": {"field": "v", "type": "quantitative", "scale": {"domain": [-3000, -790], "nice": false, "zero": false},
              "axis": {"orient": "left", "values": [-2750, -2500, -2250, -2000, -1750, -1500, -1250, -1000], "title": null, "labelExpr": "datum.value % 500 === 0 ? '' + datum.value : ''", "labelFontSize": 38, "labelPadding": 43, "tickWidth": 3, "tickSize": {"condition": {"test": "datum.value % 500 === 0", "value": -28}, "value": -14}}}
          }
        },
        {
          "data": {"name": "Csm"},
          "mark": {"type": "line", "strokeWidth": 10},
          "encoding": {
            "x": {"field": "t", "type": "quantitative", "scale": {"domain": [250, 500], "nice": false, "zero": false},
              "axis": {"orient": "top", "values": [300, 350, 400, 450], "labels": false, "title": null, "tickWidth": 3, "tickSize": {"condition": {"test": "datum.value % 100 === 0", "value": -27}, "value": -13}}},
            "y": {"field": "v", "type": "quantitative", "scale": {"domain": [-3000, -790], "nice": false, "zero": false},
              "axis": {"orient": "right", "values": [-2750, -2500, -2250, -2000, -1750, -1500, -1250, -1000], "labels": false, "title": null, "tickWidth": 3, "tickSize": {"condition": {"test": "datum.value % 500 === 0", "value": -28}, "value": -14}}},
            "color": {"datum": "Glycan-Glycan", "type": "nominal", "scale": {"range": ["black"]},
              "legend": {"orient": "none", "legendX": 443, "legendY": 254, "title": null, "symbolType": "stroke", "symbolStrokeWidth": 9, "symbolSize": 3249, "labelFontSize": 38, "labelOffset": 26, "padding": 0}}
          }
        },
        {
          "data": {"name": "letters"},
          "transform": [{"filter": "datum.p === 'C'"}],
          "mark": {"type": "text", "fontSize": 125, "font": "Liberation Serif", "align": "center", "baseline": "alphabetic", "color": "black"},
          "encoding": {
            "x": {"field": "t", "type": "quantitative", "scale": {"domain": [250, 500], "nice": false, "zero": false}, "axis": null},
            "y": {"field": "v", "type": "quantitative", "scale": {"domain": [-3000, -790], "nice": false, "zero": false}, "axis": null},
            "text": {"field": "p"}
          }
        }
      ]
    },
    {
      "width": 846, "height": 350,
      "resolve": {"axis": {"x": "independent", "y": "independent"}},
      "layer": [
        {
          "data": {"name": "Draw"},
          "mark": {"type": "line", "strokeWidth": 3, "strokeDash": [3, 3], "color": "black"},
          "encoding": {
            "x": {"field": "t", "type": "quantitative", "scale": {"domain": [250, 500], "nice": false, "zero": false},
              "axis": {"orient": "bottom", "values": [300, 350, 400, 450, 500], "labelExpr": "datum.value % 100 === 0 ? '' + datum.value : ''", "labelFontSize": 36, "labelPadding": 40, "tickWidth": 3, "tickSize": {"condition": {"test": "datum.value % 100 === 0", "value": -27}, "value": -13},
                "title": "Time (ns)", "titleFontSize": 56, "titleBaseline": "alphabetic", "titleAlign": "center", "titleX": 423, "titleY": 100}},
            "y": {"field": "v", "type": "quantitative", "scale": {"domain": [-2000, -1000], "nice": false, "zero": false},
              "axis": {"orient": "left", "values": [-2000, -1900, -1800, -1700, -1600, -1500, -1400, -1300, -1200, -1100], "title": null, "labelExpr": "datum.value % 200 === 0 ? '' + datum.value : ''", "labelFontSize": 38, "labelPadding": 43, "tickWidth": 3, "tickSize": {"condition": {"test": "datum.value % 200 === 0", "value": -28}, "value": -14}}}
          }
        },
        {
          "data": {"name": "Dsm"},
          "mark": {"type": "line", "strokeWidth": 10},
          "encoding": {
            "x": {"field": "t", "type": "quantitative", "scale": {"domain": [250, 500], "nice": false, "zero": false},
              "axis": {"orient": "top", "values": [300, 350, 400, 450], "labels": false, "title": null, "tickWidth": 3, "tickSize": {"condition": {"test": "datum.value % 100 === 0", "value": -27}, "value": -13}}},
            "y": {"field": "v", "type": "quantitative", "scale": {"domain": [-2000, -1000], "nice": false, "zero": false},
              "axis": {"orient": "right", "values": [-2000, -1900, -1800, -1700, -1600, -1500, -1400, -1300, -1200, -1100], "labels": false, "title": null, "tickWidth": 3, "tickSize": {"condition": {"test": "datum.value % 200 === 0", "value": -28}, "value": -14}}},
            "color": {"datum": "Glycan-Sol", "type": "nominal", "scale": {"range": ["black"]},
              "legend": {"orient": "none", "legendX": 453, "legendY": 249, "title": null, "symbolType": "stroke", "symbolStrokeWidth": 9, "symbolSize": 3249, "labelFontSize": 38, "labelOffset": 24, "padding": 0}}
          }
        },
        {
          "data": {"name": "letters"},
          "transform": [{"filter": "datum.p === 'D'"}],
          "mark": {"type": "text", "fontSize": 125, "font": "Liberation Serif", "align": "center", "baseline": "alphabetic", "color": "black"},
          "encoding": {
            "x": {"field": "t", "type": "quantitative", "scale": {"domain": [250, 500], "nice": false, "zero": false}, "axis": null},
            "y": {"field": "v", "type": "quantitative", "scale": {"domain": [-2000, -1000], "nice": false, "zero": false}, "axis": null},
            "text": {"field": "p"}
          }
        }
      ]
    }
  ]
}
